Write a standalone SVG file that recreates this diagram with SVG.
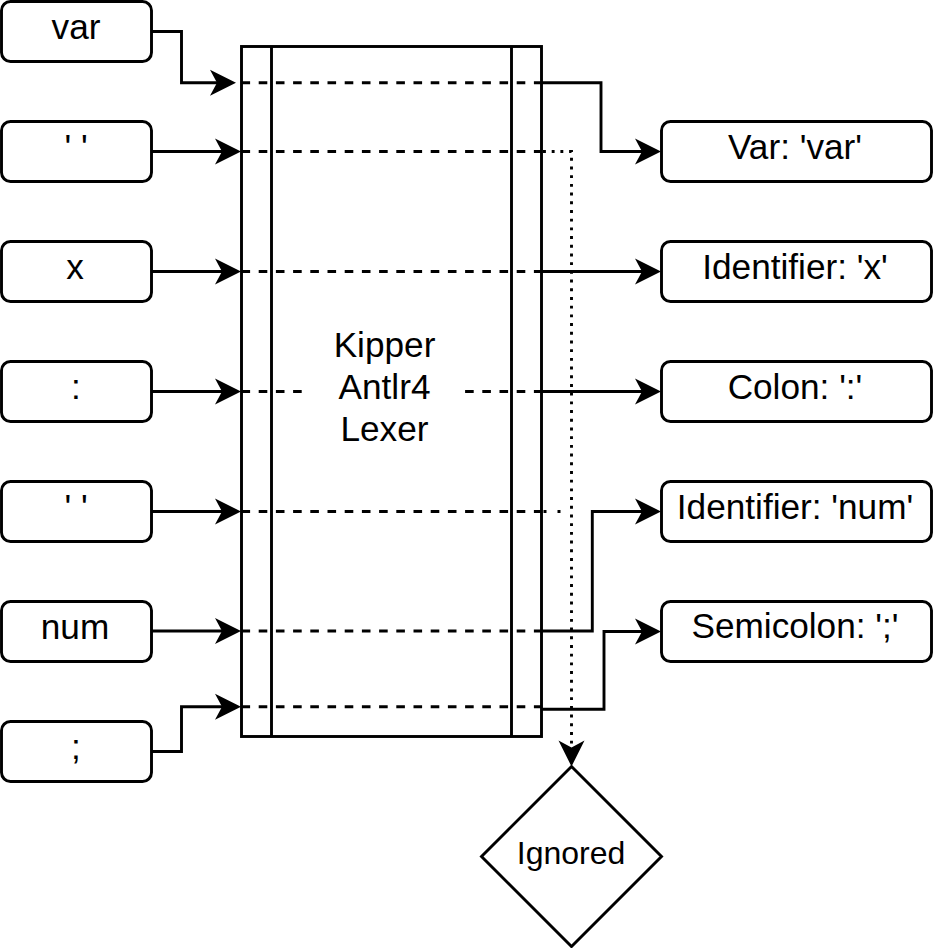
<svg xmlns="http://www.w3.org/2000/svg" width="933" height="948" viewBox="0 0 933 948">
  <style>
    .box { fill: #ffffff; stroke: #000000; stroke-width: 2.9; }
    .frame { fill: none; stroke: #000000; stroke-width: 2.9; }
    .lbl { font-family: "Liberation Sans", Arial, Helvetica, sans-serif; font-size: 35.2px; fill: #000000; text-anchor: middle; }
    .small { font-size: 32px; }
    .edge { fill: none; stroke: #000000; stroke-width: 2.9; }
    .dash { stroke-dasharray: 8.6 8.6; }
    .dot { stroke-dasharray: 2.9 5.8; }
  </style>
  <defs>
    <marker id="ah" markerUnits="userSpaceOnUse" viewBox="-20 -15 32 30" markerWidth="32" markerHeight="30" refX="0" refY="0" orient="auto" overflow="visible">
      <path d="M10,0 L-16,-13 L-9,0 L-16,13 Z" fill="#000000" stroke="none"/>
    </marker>
  </defs>
  <rect x="0" y="0" width="933" height="948" fill="#ffffff"/>

  <g id="connectors">
    <!-- inputs to lexer -->
    <path class="edge" d="M151.5,31.5 H181.5 V82.7 H226" marker-end="url(#ah)"/>
    <path class="edge" d="M151.5,151.5 H231" marker-end="url(#ah)"/>
    <path class="edge" d="M151.5,271.5 H231" marker-end="url(#ah)"/>
    <path class="edge" d="M151.5,391.5 H231" marker-end="url(#ah)"/>
    <path class="edge" d="M151.5,511.5 H231" marker-end="url(#ah)"/>
    <path class="edge" d="M151.5,631 H231" marker-end="url(#ah)"/>
    <path class="edge" d="M151.5,751.5 H181.5 V706.7 H231" marker-end="url(#ah)"/>
    <!-- dashed paths through lexer -->
    <path class="edge dash" d="M241.5,82.7 H541.5"/>
    <path class="edge dash" d="M241.5,151.5 H541.5"/>
    <path class="edge dash" d="M241.5,271.5 H541.5"/>
    <path class="edge dash" d="M241.5,391.5 H541.5"/>
    <path class="edge dash" d="M241.5,511.5 H541.5"/>
    <path class="edge dash" d="M241.5,631 H541.5"/>
    <path class="edge dash" d="M241.5,706.7 H541.5"/>
    <!-- outputs -->
    <path class="edge" d="M541.5,82.7 H601 V151.5 H651" marker-end="url(#ah)"/>
    <path class="edge" d="M541.5,271.5 H651" marker-end="url(#ah)"/>
    <path class="edge" d="M541.5,391.5 H651" marker-end="url(#ah)"/>
    <path class="edge" d="M541.5,631 H592.3 V511.5 H651" marker-end="url(#ah)"/>
    <path class="edge" d="M541.5,709.3 H604 V631.5 H651" marker-end="url(#ah)"/>
    <!-- ignored (dotted) -->
    <path class="edge dot" d="M543,151.5 H571.5 V756.5" marker-end="url(#ah)"/>
    <path class="edge" style="stroke-dasharray: 3 11;" d="M543.5,511.5 H571.5"/>
  </g>

  <g id="lexer">
    <rect class="frame" x="241.5" y="46.5" width="300" height="690"/>
    <line class="frame" x1="271.5" y1="46.5" x2="271.5" y2="736.5"/>
    <line class="frame" x1="511.5" y1="46.5" x2="511.5" y2="736.5"/>
    <rect x="305" y="322" width="152" height="128" fill="#ffffff"/>
    <text class="lbl" x="384.5" y="357">Kipper</text>
    <text class="lbl" x="384.5" y="399">Antlr4</text>
    <text class="lbl" x="384.5" y="440.5">Lexer</text>
  </g>

  <g id="in-var">
    <rect class="box" x="1.5" y="1.5" width="150" height="60" rx="9"/>
    <text class="lbl" x="76" y="38.5">var</text>
  </g>
  <g id="in-space1">
    <rect class="box" x="1.5" y="121.5" width="150" height="60" rx="9"/>
    <text class="lbl" x="76" y="158.5">' '</text>
  </g>
  <g id="in-x">
    <rect class="box" x="1.5" y="241.5" width="150" height="60" rx="9"/>
    <text class="lbl" x="75" y="278.5">x</text>
  </g>
  <g id="in-colon">
    <rect class="box" x="1.5" y="361.5" width="150" height="60" rx="9"/>
    <text class="lbl" x="76" y="398.5">:</text>
  </g>
  <g id="in-space2">
    <rect class="box" x="1.5" y="481.5" width="150" height="60" rx="9"/>
    <text class="lbl" x="76" y="518.5">' '</text>
  </g>
  <g id="in-num">
    <rect class="box" x="1.5" y="601.5" width="150" height="60" rx="9"/>
    <text class="lbl" x="75" y="638.5">num</text>
  </g>
  <g id="in-semicolon">
    <rect class="box" x="1.5" y="721.5" width="150" height="60" rx="9"/>
    <text class="lbl" x="76" y="758.5">;</text>
  </g>

  <g id="out-var">
    <rect class="box" x="661.5" y="121.5" width="270" height="60" rx="9"/>
    <text class="lbl" x="795" y="158.5">Var: 'var'</text>
  </g>
  <g id="out-identifier-x">
    <rect class="box" x="661.5" y="241.5" width="270" height="60" rx="9"/>
    <text class="lbl" x="795" y="278.5">Identifier: 'x'</text>
  </g>
  <g id="out-colon">
    <rect class="box" x="661.5" y="361.5" width="270" height="60" rx="9"/>
    <text class="lbl" x="795" y="398.5">Colon: ':'</text>
  </g>
  <g id="out-identifier-num">
    <rect class="box" x="661.5" y="481.5" width="270" height="60" rx="9"/>
    <text class="lbl" x="795" y="518.5">Identifier: 'num'</text>
  </g>
  <g id="out-semicolon">
    <rect class="box" x="661.5" y="601.5" width="270" height="60" rx="9"/>
    <text class="lbl" x="795" y="638">Semicolon: ';'</text>
  </g>

  <g id="ignored">
    <polygon class="box" points="571.5,766.5 661.5,856.5 571.5,946.5 481.5,856.5"/>
    <text class="lbl small" x="571" y="863.5">Ignored</text>
  </g>
</svg>
